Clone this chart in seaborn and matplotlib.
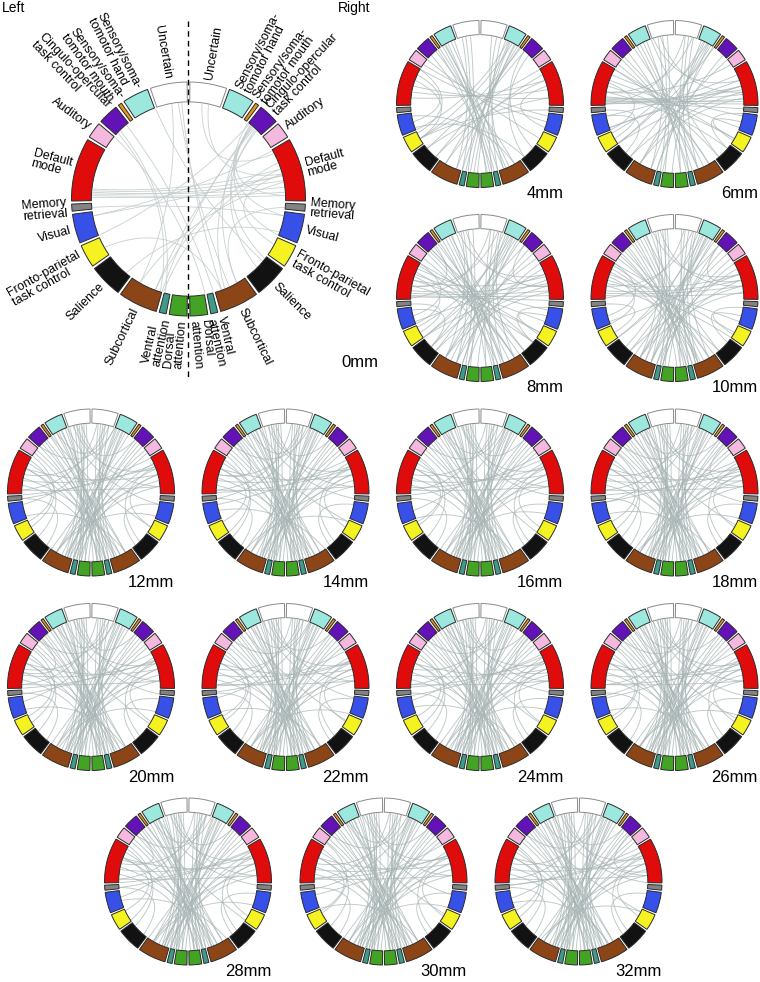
import numpy as np
import pandas as pd
import matplotlib
matplotlib.use("Agg")
import matplotlib.pyplot as plt
from matplotlib.patches import Wedge
import seaborn as sns

# ------------------------------------------------------------------
# Chord diagrams of inter-module connections per smoothing kernel
# ------------------------------------------------------------------

networks = ["Uncertain", "Sensory/soma-\ntomotor hand", "Sensory/soma-\ntomotor mouth",
            "Cingulo-opercular\ntask control", "Auditory", "Default\nmode",
            "Memory\nretrieval", "Visual", "Fronto-parietal\ntask control",
            "Salience", "Subcortical", "Ventral\nattention", "Dorsal\nattention"]
network_colors = ["#ffffff", "#9ce8de", "#e8951c", "#6312b8", "#f5b8de", "#e00c0c",
                  "#838383", "#3650e8", "#f5f222", "#121212", "#8c4516", "#3f9a88",
                  "#42a324"]
# angular span of each module in one hemisphere (degrees)
network_span = [18.3, 13.0, 1.8, 10.2, 8.0, 31.5, 3.5, 14.5, 11.5, 16.5, 19.5, 3.5, 8.8]

# chords as (angle_a, angle_b), degrees clockwise from top, left hemisphere negative
chords_0mm = [(-86, 83), (-87, 79), (-88, 86), (-85, 76), (-89, 88), (-84, 72),
              (42, -164), (43, -160), (41, 150), (44, 135), (40, 128), (45, 158),
              (39, -112), (38, 100), (40, 112), (41, 88),
              (72, -165), (68, -160), (80, -150), (76, -100),
              (-47, -163), (-45, -166), (-50, 170), (-40, 165),
              (-6, 155), (-4, 160), (8, 62), (12, 75), (-10, -150),
              (-100, 60), (-95, 100), (-120, 160), (110, -140), (118, 75),
              (95, 150), (-20, 130)]

chords_4mm = [(-30, 165), (-33, 168), (-28, 172), (-36, 160), (-25, 158), (-40, 150),
              (-45, 170), (-22, 175), (-38, 174), (-31, 155),
              (22, -172), (25, -168), (30, -175), (33, -160), (35, -150), (28, -120),
              (24, -112), (36, -130), (26, -178), (31, -165),
              (-12, -165), (-8, -170), (-15, -160), (14, 170), (18, 165), (10, 160),
              (-80, 78), (-75, 85), (-85, 70),
              (-65, -105), (-70, -120), (-60, -115),
              (70, -140), (65, -150), (85, -130), (95, -120),
              (40, 130), (45, 140), (75, 110),
              (-50, 120), (-55, 100), (-100, 150), (-110, 140), (105, -60),
              (-120, 60), (-140, 40)]

chords_6mm = [(-88, 86), (-87, 90), (-86, 82), (-89, 94), (-85, 78), (-90, 75), (-84, 88),
              (-30, 165), (-33, 170), (-27, 160), (-36, 155), (-42, 168), (-47, 150),
              (-24, 175),
              (23, -170), (26, -160), (29, -150), (32, -140), (25, -125), (28, -115),
              (34, -165), (30, -178),
              (-10, -168), (-14, -160), (-6, -172), (12, 168), (16, 160), (9, 175),
              (-70, 110), (-75, 120), (-65, 100), (-80, 130), (-60, 140),
              (70, -110), (75, -125), (80, -140), (65, -100), (85, -150),
              (-95, -120), (-100, -135), (-72, -112), (98, 130), (105, 122),
              (45, -165), (50, -150), (-50, 160), (-55, 150),
              (-18, 70), (-12, 80), (15, -80), (8, -90),
              (55, -80), (-110, 75), (120, -60), (-125, 35), (140, -20)]

chords_8mm = [(-88, 88), (-86, 84), (-89, 92), (-84, 78), (-75, 72),
              (-30, 165), (-33, 170), (-27, 160), (-36, 155), (-42, 168), (-47, 150),
              (-24, 175), (-20, 162), (-38, 145),
              (22, -170), (25, -160), (28, -150), (31, -140), (24, -125), (27, -115),
              (33, -165), (29, -178), (35, -155),
              (-10, -168), (-14, -160), (-6, -172), (-16, -150),
              (12, 168), (16, 160), (9, 175), (18, 150),
              (-70, 110), (-75, 120), (-65, 100), (-80, 130), (-62, 150), (-68, 165),
              (70, -110), (75, -125), (80, -140), (65, -160), (85, -150), (60, -170),
              (-95, -120), (-100, -135), (-72, -112), (98, 130), (105, 122), (-60, -105),
              (45, -165), (50, -150), (55, -135), (-50, 160), (-55, 150), (-45, 140),
              (-18, 70), (-12, 80), (15, -80), (8, -90), (40, 80), (-40, -80),
              (120, -60), (-125, 40), (140, -25), (130, -45), (-135, 20)]

chords_10mm = [(-88, 86), (-86, 80), (-84, 75), (-78, 70),
               (-30, 165), (-33, 170), (-27, 160), (-36, 155), (-42, 168), (-47, 150),
               (-24, 175), (-20, 162), (-38, 172), (-52, 158), (-44, 178),
               (22, -170), (25, -160), (28, -150), (31, -140), (24, -125), (27, -175),
               (33, -165), (29, -155), (35, -145), (40, -168),
               (-10, -168), (-14, -160), (-6, -172), (-16, -150), (-8, -155),
               (12, 168), (16, 160), (9, 175), (18, 150), (6, 162),
               (-70, 110), (-75, 125), (-65, 160), (-80, 140), (-62, 150), (-68, 170),
               (70, -110), (75, -165), (80, -140), (65, -160), (85, -150), (60, -170),
               (-95, -120), (-72, -112), (98, 130), (105, 122), (-60, -105),
               (45, -160), (50, -150), (55, -170), (-50, 165), (-55, 145),
               (-18, 70), (-12, 80), (15, -80), (8, -90), (40, 75),
               (120, -60), (-125, 40), (140, -25), (-135, 20)]

# bundle of connections present in every panel from 12 mm on
chords_late_shared = [(-8, -168), (-10, -165), (-12, -172), (-6, -160), (-14, -158),
                      (-18, -170), (-4, -175),
                      (-22, 168), (-25, 172), (-28, 165), (-30, 160), (-33, 175),
                      (-36, 155), (-26, 150), (-20, 178),
                      (-42, 170), (-45, 162), (-48, 167), (-52, 158), (-55, 174), (-40, 150),
                      (10, 168), (12, 172), (8, 160), (15, 165), (6, 175),
                      (22, -170), (25, -166), (28, -175), (30, -160), (33, -155),
                      (24, -150), (27, -178), (21, -162),
                      (42, -168), (45, -160), (48, -172), (52, -150), (55, -165), (40, -145),
                      (65, -165), (70, -158), (75, -170), (80, -150), (85, -162),
                      (-65, 160), (-70, 168), (-78, 155), (-84, 172),
                      (-70, 75), (-80, 68), (-88, 85),
                      (-70, -115), (-62, -130), (75, 120), (68, 135), (-95, -140), (100, 140),
                      (-15, 70), (-8, 85), (12, -75), (5, -88),
                      (-12, 40), (-30, 15), (20, -48)]

chords_12mm = chords_late_shared + [(-58, -120), (-92, 66), (60, -95), (-35, 120),
                                    (110, -150), (-110, 150), (20, -100), (-20, 100)]
chords_14mm = chords_late_shared + [(-58, -125), (-90, 70), (62, -100), (-38, 115),
                                    (115, -145), (-105, 145), (18, -95), (-22, 95), (-44, -75)]
chords_16mm = chords_late_shared + [(-60, -118), (-86, 62), (58, -92), (-32, 125),
                                    (108, -155), (-112, 152), (22, -105), (-16, 92)]
chords_18mm = chords_late_shared + [(-56, -122), (-92, 72), (63, -98), (-37, 118),
                                    (112, -148), (-108, 148), (17, -98), (-24, 98), (46, 80)]
chords_20mm = chords_late_shared + [(-57, -121), (-91, 67), (61, -96), (-34, 122),
                                    (111, -152), (-109, 151), (19, -102), (-21, 96), (-46, -78)]
chords_22mm = chords_late_shared + [(-59, -119), (-89, 69), (59, -94), (-36, 119),
                                    (113, -150), (-111, 149), (21, -99), (-19, 99)]
chords_24mm = chords_late_shared + [(-58, -123), (-90, 64), (62, -97), (-33, 121),
                                    (109, -153), (-107, 147), (18, -101), (-23, 94), (44, 78)]
chords_26mm = chords_late_shared + [(-57, -118), (-88, 71), (60, -99), (-35, 117),
                                    (114, -149), (-110, 153), (20, -97), (-18, 97)]
chords_28mm = chords_late_shared + [(-59, -124), (-91, 63), (64, -95), (-37, 124),
                                    (110, -151), (-106, 146), (16, -103), (-25, 93), (-45, -72)]
chords_30mm = chords_late_shared + [(-56, -117), (-87, 68), (58, -101), (-32, 118),
                                    (112, -154), (-113, 150), (23, -96), (-17, 101)]
chords_32mm = chords_late_shared + [(-60, -121), (-93, 65), (61, -93), (-39, 116),
                                    (116, -147), (-108, 154), (19, -104), (-21, 91), (47, 82)]

panel_names = ["4mm", "6mm", "8mm", "10mm", "12mm", "14mm", "16mm", "18mm",
               "20mm", "22mm", "24mm", "26mm", "28mm", "30mm", "32mm"]
panel_chords = [chords_4mm, chords_6mm, chords_8mm, chords_10mm,
                chords_12mm, chords_14mm, chords_16mm, chords_18mm,
                chords_20mm, chords_22mm, chords_24mm, chords_26mm,
                chords_28mm, chords_30mm, chords_32mm]

# ------------------------------------------------------------------
W, H = 760, 982
R_IN = 0.83
BEND = 0.25
sns.set_theme(style="white")
plt.rcParams["font.family"] = ["Liberation Sans", "DejaVu Sans"]
plt.rcParams["text.color"] = "black"

fig = plt.figure(figsize=(W / 100, H / 100), dpi=100)

# ring segment limits for one hemisphere
gap = (180 - sum(network_span) - 1.4) / (len(network_span) - 1)
seg_start, seg_end = [], []
pos = 0.7
for s in network_span:
    seg_start.append(pos)
    seg_end.append(pos + s)
    pos += s + gap


def polar(a, r):
    a = np.deg2rad(a)
    return np.array([r * np.sin(a), r * np.cos(a)])


def chord_frame(chords):
    t = np.linspace(0, 1, 40)[:, None]
    parts = []
    for i, (a, b) in enumerate(chords):
        p0, p2 = polar(a, R_IN - 0.01), polar(b, R_IN - 0.01)
        c = BEND * (p0 + p2) / 2
        pts = (1 - t) ** 2 * p0 + 2 * (1 - t) * t * c + t ** 2 * p2
        parts.append(pd.DataFrame({"x": pts[:, 0], "y": pts[:, 1], "chord": i}))
    return pd.concat(parts, ignore_index=True)


def draw_circle(ax, chords, color, lw, alpha):
    df = chord_frame(chords)
    sns.lineplot(data=df, x="x", y="y", units="chord", estimator=None, sort=False,
                 color=color, lw=lw, alpha=alpha, ax=ax, legend=False)
    for side in (1, -1):
        for k in range(len(networks)):
            if side == 1:
                t1, t2 = 90 - seg_end[k], 90 - seg_start[k]
            else:
                t1, t2 = 90 + seg_start[k], 90 + seg_end[k]
            ec = "#8a8a8a" if network_colors[k] == "#ffffff" else "#2a2a2a"
            ax.add_patch(Wedge((0, 0), 1.0, t1, t2, width=1 - R_IN,
                               fc=network_colors[k], ec=ec, lw=0.7, zorder=3))
    ax.set_xlabel("")
    ax.set_ylabel("")
    ax.axis("off")


def make_axes(cx, cy, r_px, half):
    hw = half * r_px
    ax = fig.add_axes([(cx - hw) / W, (H - cy - hw) / H, 2 * hw / W, 2 * hw / H])
    ax.set_xlim(-half, half)
    ax.set_ylim(-half, half)
    return ax


# ---- big labelled 0mm panel
big_cx, big_cy, big_r = 188.5, 199, 117
ax0 = make_axes(big_cx, big_cy, big_r, 1.6)
draw_circle(ax0, chords_0mm, "#c3cbcb", 0.6, 0.9)
ax0.set_xlim(-1.6, 1.6)
ax0.set_ylim(-1.6, 1.6)
ax0.plot([0, 0], [1.52, -1.52], color="black", lw=1.0, ls=(0, (4, 3)), zorder=4)
for k, name in enumerate(networks):
    mid = (seg_start[k] + seg_end[k]) / 2
    x, y = polar(mid, 1.04)
    ax0.text(x, y, name, rotation=90 - mid, rotation_mode="anchor", ha="left",
             va="center", multialignment="left", fontsize=9, linespacing=0.88)
    ax0.text(-x, y, name, rotation=mid - 90, rotation_mode="anchor", ha="right",
             va="center", multialignment="left", fontsize=9, linespacing=0.88)
fig.text(2 / W, 1 - 8 / H, "Left", fontsize=10, ha="left", va="center")
fig.text(370 / W, 1 - 8 / H, "Right", fontsize=10, ha="right", va="center")
fig.text(378 / W, 1 - 363 / H, "0mm", fontsize=12, ha="right", va="center")

# ---- small panels
small_r = 83.5
centers = [(480, 104), (674.5, 104), (480, 298), (674.5, 298),
           (91, 492.5), (285.5, 492.5), (480, 492.5), (674.5, 492.5),
           (91, 687), (285.5, 687), (480, 687), (674.5, 687),
           (188, 881.5), (383.5, 881.5), (578.5, 881.5)]
for name, chords, (cx, cy) in zip(panel_names, panel_chords, centers):
    ax = make_axes(cx, cy, small_r, 1.03)
    draw_circle(ax, chords, "#a9b5b5", 0.65, 0.75)
    ax.set_xlim(-1.03, 1.03)
    ax.set_ylim(-1.03, 1.03)
    fig.text((cx + small_r) / W, 1 - (cy + 90) / H, name, fontsize=12,
             ha="right", va="center")

fig.savefig("out.png", dpi=100, facecolor="white")
